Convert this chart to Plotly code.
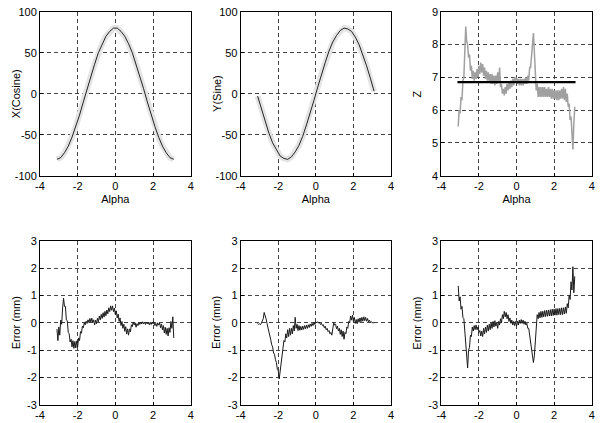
import plotly.graph_objects as go

# ---------------- data ----------------
alpha_fit = [round(-3.1 + 0.2 * i, 1) for i in range(32)]

x_cosine = [-80, -78, -72, -64, -53, -40, -26, -10, 6, 21, 36, 50, 61, 70, 76, 80,
            80, 76, 70, 61, 50, 36, 21, 6, -10, -26, -40, -53, -64, -72, -78, -80]
y_sine = [-3, -19, -34, -48, -60, -69, -76, -79, -80, -77, -71, -63, -52, -38, -24, -8,
          8, 24, 38, 52, 63, 71, 77, 80, 79, 76, 69, 60, 48, 34, 19, 3]

# measured values, sampled every 0.05 rad from -3.10 to 3.10
z_meas = [5.5, 6.0, 5.9, 6.4, 6.3, 6.9, 7.0, 7.8, 8.55, 8.1,
          8.0, 7.6, 7.7, 7.2, 7.35, 6.95, 7.2, 6.9, 7.15, 6.95,
          7.25, 7.0, 7.35, 7.1, 7.45, 7.15, 7.4, 7.05, 7.3, 6.95,
          7.2, 6.9, 7.15, 6.85, 7.1, 6.8, 7.1, 6.8, 7.05, 6.75,
          7.05, 6.8, 7.15, 6.85, 7.3, 6.7, 6.8, 6.5, 6.65, 6.45,
          6.7, 6.5, 6.8, 6.6, 6.85, 6.65, 6.9, 6.7, 6.95, 6.75,
          7.0, 6.85, 7.0, 6.8, 6.95, 6.75, 6.95, 6.75, 6.95, 6.75,
          6.95, 6.8, 7.0, 6.8, 7.05, 6.9, 7.3, 7.3, 7.8, 8.0,
          8.35, 7.6, 7.3, 6.6, 6.8, 6.4, 6.7, 6.4, 6.7, 6.4,
          6.7, 6.4, 6.7, 6.4, 6.65, 6.4, 6.7, 6.4, 6.65, 6.35,
          6.65, 6.35, 6.6, 6.35, 6.6, 6.3, 6.6, 6.3, 6.6, 6.35,
          6.65, 6.35, 6.7, 6.3, 6.65, 6.25, 6.5, 6.1, 6.2, 5.7,
          5.8, 5.2, 4.8, 5.6, 6.1]
z_mean_x = [-3.14, 3.14]
z_mean = [6.85, 6.85]

err_x = [-0.23, -0.65, -0.15, -0.45, 0.1, -0.05, 0.55, 0.9, 0.6, 0.6,
         0.1, 0.08, -0.35, -0.4, -0.7, -0.6, -0.88, -0.65, -0.93, -0.68,
         -0.92, -0.66, -0.88, -0.55, -0.65, -0.32, -0.38, -0.12, -0.18, 0.0,
         -0.07, 0.06, -0.02, 0.11, 0.01, 0.16, 0.03, 0.17, 0.01, 0.11,
         -0.08, 0.1, -0.03, 0.17, 0.04, 0.25, 0.11, 0.31, 0.16, 0.37,
         0.21, 0.42, 0.26, 0.47, 0.33, 0.55, 0.41, 0.62, 0.46, 0.62,
         0.41, 0.54, 0.3, 0.44, 0.18, 0.32, 0.05, 0.18, -0.1, 0.05,
         -0.2, -0.05, -0.31, -0.14, -0.41, -0.22, -0.45, -0.22, -0.33, -0.07,
         -0.14, 0.03, -0.08, 0.0, -0.16, -0.03, -0.1, 0.01, -0.06, 0.03,
         -0.04, 0.04, -0.04, 0.03, -0.06, 0.03, -0.04, 0.02, -0.07, 0.02,
         -0.06, 0.03, -0.04, 0.02, -0.1, -0.02, -0.13, 0.0, -0.08, 0.0,
         -0.18, -0.04, -0.25, -0.1, -0.37, -0.16, -0.42, -0.2, -0.48, -0.18,
         -0.35, 0.05, -0.2, 0.22, -0.55]
err_y = [-0.02, -0.06, -0.03, -0.07, -0.01, 0.05, 0.15, 0.38, 0.28, 0.15,
         -0.02, -0.15, -0.3, -0.48, -0.62, -0.8, -0.88, -1.1, -1.15, -1.35,
         -1.45, -1.7, -1.75, -2.05, -1.8, -1.55, -1.1, -0.95, -0.65, -0.7,
         -0.4, -0.55, -0.25, -0.5, -0.2, -0.45, -0.2, -0.4, -0.1, -0.3,
         0.2, -0.2, -0.05, -0.28, -0.1, -0.27, -0.13, -0.26, -0.12, -0.24,
         -0.1, -0.22, -0.08, -0.2, -0.07, -0.17, -0.04, -0.13, -0.02, -0.1,
         0.01, -0.06, 0.04, 0.0, 0.04, -0.01, 0.01, -0.06, -0.02, -0.1,
         -0.07, -0.18, -0.12, -0.25, -0.2, -0.32, -0.28, -0.4, -0.35, -0.45,
         -0.15, 0.0, -0.08, -0.05, -0.22, -0.12, -0.3, -0.2, -0.42, -0.25,
         -0.5, -0.3, -0.6, -0.35, -0.4, -0.15, -0.2, 0.05, 0.0, 0.25,
         0.1, 0.28, 0.05, 0.2, -0.02, 0.12, -0.03, 0.15, 0.02, 0.18,
         0.04, 0.2, 0.06, 0.22, 0.08, 0.2, 0.06, 0.16, 0.04, 0.1,
         0.02, 0.05, 0.0, 0.01, -0.01]
err_z = [1.35, 0.8, 0.95, 0.5, 0.6, 0.2, 0.15, -0.35, -0.6, -1.4,
         -1.65, -1.0, -0.9, -0.45, -0.5, -0.15, -0.3, -0.1, -0.25, -0.08,
         -0.25, -0.15, -0.35, -0.28, -0.48, -0.3, -0.5, -0.2, -0.4, -0.15,
         -0.35, -0.08, -0.3, -0.05, -0.25, 0.0, -0.2, 0.05, -0.15, 0.08,
         -0.12, 0.02, -0.2, 0.05, -0.08, 0.15, 0.0, 0.3, 0.15, 0.42,
         0.22, 0.38, 0.15, 0.3, 0.05, 0.18, -0.02, 0.1, -0.08, 0.05,
         -0.1, 0.05, -0.12, 0.06, -0.08, 0.1, -0.02, 0.12, -0.02, 0.1,
         -0.05, 0.06, -0.08, -0.02, -0.2, -0.2, -0.45, -0.55, -0.85, -1.1,
         -1.45, -1.2, -0.6, 0.05, 0.3, 0.15, 0.38, 0.18, 0.42, 0.2,
         0.42, 0.22, 0.45, 0.23, 0.46, 0.24, 0.47, 0.25, 0.48, 0.25,
         0.5, 0.27, 0.5, 0.28, 0.52, 0.28, 0.52, 0.3, 0.53, 0.3,
         0.55, 0.3, 0.55, 0.32, 0.58, 0.35, 0.7, 0.55, 1.0, 0.85,
         1.5, 1.2, 2.05, 1.1, 1.7]

x_ticks = [-4, -2, 0, 2, 4]
y_titles = ['X(Cosine)', 'Y(Sine)', 'Z', 'Error (mm)', 'Error (mm)', 'Error (mm)']


def fine_alpha(values):
    return [round(-3.1 + 0.05 * i, 2) for i in range(len(values))]


def labels(vals):
    return [str(v) for v in vals]

# ---------------- figure ----------------
W, H = 601, 423
cols = [(40, 190.7), (240.7, 391), (441.3, 591.7)]
rows = [(11.7, 175.7), (240.7, 405)]


def xd(c):
    return [cols[c][0] / W, cols[c][1] / W]


def yd(r):
    return [1 - rows[r][1] / H, 1 - rows[r][0] / H]


fig = go.Figure()


def add(xs, ys, n, color, width):
    ax = '' if n == 1 else str(n)
    fig.add_trace(go.Scatter(x=xs, y=ys, mode='lines', xaxis='x' + ax, yaxis='y' + ax,
                             line=dict(color=color, width=width), showlegend=False,
                             hoverinfo='skip'))


add(alpha_fit, x_cosine, 1, '#e4e4e4', 6)
add(alpha_fit, x_cosine, 1, '#222222', 1)
add(alpha_fit, y_sine, 2, '#e4e4e4', 6)
add(alpha_fit, y_sine, 2, '#222222', 1)
add(fine_alpha(z_meas), z_meas, 3, '#a0a0a0', 1.5)
add(z_mean_x, z_mean, 3, '#000000', 2.2)
add(fine_alpha(err_x), err_x, 4, '#1a1a1a', 1)
add(fine_alpha(err_y), err_y, 5, '#1a1a1a', 1)
add(fine_alpha(err_z), err_z, 6, '#1a1a1a', 1)

font = dict(family='Liberation Sans, Arial, sans-serif', size=11, color='black')
common = dict(showline=True, linecolor='black', linewidth=1, mirror=True,
              ticks='inside', ticklen=3, tickcolor='black',
              showgrid=True, gridcolor='#444444', gridwidth=1, griddash='4px,3px',
              zeroline=False, tickfont=font, automargin=False)

layout = dict(width=W, height=H, margin=dict(l=0, r=0, t=0, b=0),
              paper_bgcolor='white', plot_bgcolor='white', font=font, showlegend=False)

yranges = [[-100, 100], [-100, 100], [4, 9], [-3, 3], [-3, 3], [-3, 3]]
yticks = [[-100, -50, 0, 50, 100], [-100, -50, 0, 50, 100], [4, 5, 6, 7, 8, 9],
          [-3, -2, -1, 0, 1, 2, 3], [-3, -2, -1, 0, 1, 2, 3], [-3, -2, -1, 0, 1, 2, 3]]

annotations = []
for i in range(6):
    n = i + 1
    r, c = divmod(i, 3)
    ax = '' if n == 1 else str(n)
    xa = dict(common, domain=xd(c), range=[-4, 4], tickvals=x_ticks,
              ticktext=labels(x_ticks), anchor='y' + ax)
    if r == 0:
        xa['title'] = dict(text='Alpha', font=font, standoff=4)
    ya = dict(common, domain=yd(r), range=yranges[i], tickvals=yticks[i],
              ticktext=labels(yticks[i]), anchor='x' + ax)
    layout['xaxis' + ax] = xa
    layout['yaxis' + ax] = ya
    annotations.append(dict(text=y_titles[i], xref='paper', yref='paper',
                            x=(cols[c][0] - 24.5) / W, y=sum(yd(r)) / 2,
                            xanchor='center', yanchor='middle', textangle=-90,
                            showarrow=False, font=font))

layout['annotations'] = annotations
fig.update_layout(**layout)
fig.write_html('out.html', config={'displayModeBar': False},
               post_script="document.body.style.margin='0';document.body.style.padding='0';")
